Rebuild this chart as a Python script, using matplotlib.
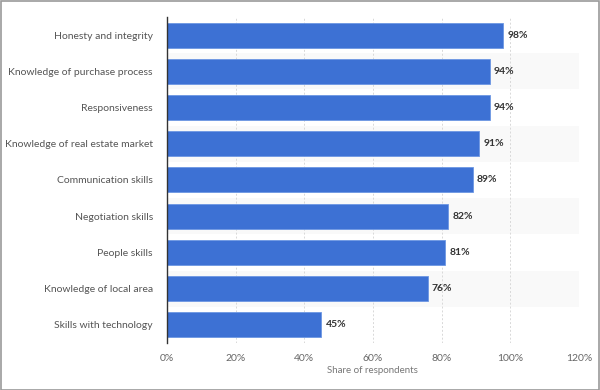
import matplotlib
matplotlib.use("Agg")
import matplotlib.pyplot as plt
from matplotlib.patches import Rectangle

categories = ["Honesty and integrity", "Knowledge of purchase process", "Responsiveness",
              "Knowledge of real estate market", "Communication skills", "Negotiation skills",
              "People skills", "Knowledge of local area", "Skills with technology"]
values = [98, 94, 94, 91, 89, 82, 81, 76, 45]
xticks = [0, 20, 40, 60, 80, 100, 120]
xticklabels = ["0%", "20%", "40%", "60%", "80%", "100%", "120%"]

plt.rcParams['font.family'] = ['Lato', 'DejaVu Sans']

fig = plt.figure(figsize=(6, 3.9), dpi=100)
ax = fig.add_axes([0.278, 0.1205, 0.687, 0.836])
fig.patches.append(Rectangle((0.001, 0.001), 0.997, 0.997, transform=fig.transFigure,
                             fill=False, edgecolor="#9a9a9a", linewidth=1.2))

n = len(categories)
ypos = list(range(n))
for i in ypos:
    if i % 2 == 1:
        ax.axhspan(i - 0.5, i + 0.5, color="#f9f9f9", zorder=0, lw=0)

ax.barh(ypos, values, height=0.69, color="#3d71d4", edgecolor="#6d97e3", linewidth=0.6, zorder=3)
for y, v in zip(ypos, values):
    ax.text(v + 1.2, y, f"{v}%", va="center", ha="left", fontsize=7.5, color="#333333",
            fontweight="bold", zorder=4)

ax.set_xlim(0, 120)
ax.set_ylim(n - 0.5, -0.5)
ax.set_xticks(xticks)
ax.set_xticklabels(xticklabels, fontsize=7.5, color="#666666")
ax.set_yticks(ypos)
ax.set_yticklabels(categories, fontsize=7.5, color="#555555")
ax.tick_params(axis="both", length=0, pad=8)
ax.tick_params(axis="y", pad=10)
ax.xaxis.grid(True, linestyle=(0, (2, 2)), color="#d8d8d8", linewidth=0.7, zorder=1)
ax.set_axisbelow(True)
for s in ["top", "right", "bottom"]:
    ax.spines[s].set_visible(False)
ax.spines["left"].set_color("#333333")
ax.spines["left"].set_linewidth(1)
ax.spines["left"].set_zorder(5)
ax.set_xlabel("Share of respondents", fontsize=7, color="#777777", labelpad=2)

fig.savefig("out.png", dpi=100)
